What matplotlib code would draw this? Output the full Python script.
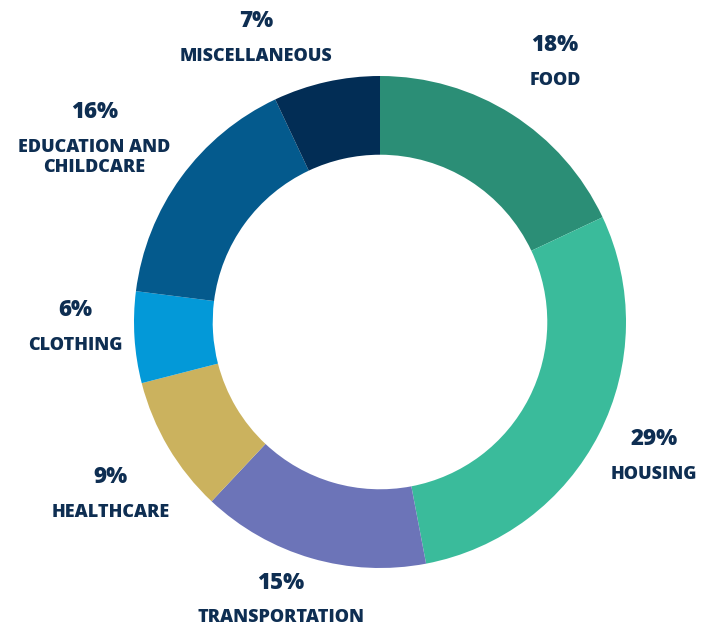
import numpy as np
import matplotlib
matplotlib.use("Agg")
import matplotlib.pyplot as plt

categories = ["FOOD", "HOUSING", "TRANSPORTATION", "HEALTHCARE", "CLOTHING",
              "EDUCATION AND\nCHILDCARE", "MISCELLANEOUS"]
shares = [18, 29, 15, 9, 6, 16, 7]
colors = ["#2B8E76", "#3ABB9B", "#6C74B8", "#CBB25E", "#0399D8", "#045A8D", "#022D55"]
# small tweaks to label placement (angle offset in degrees, radius)
label_nudge = [(-1.5, 1.275), (1, 1.24), (-3.5, 1.198), (2, 1.30), (-2.6, 1.24), (2, 1.40), (11, 1.26)]

text_color = "#0E2E52"
plt.rcParams["font.family"] = ["Open Sans", "DejaVu Sans"]

fig = plt.figure(figsize=(7.14, 6.27), dpi=100)
ax = fig.add_axes([0, 0, 1, 1])

wedges, _ = ax.pie(shares, colors=colors, startangle=90, counterclock=False,
                   radius=1, wedgeprops=dict(width=0.32, linewidth=0))

# place the donut so that it matches the reference position
cx, cy, R = 380, 322, 246
W, H = 714, 627
ax.set_xlim(-cx / R, (W - cx) / R)
ax.set_ylim(-(H - cy) / R, cy / R)
ax.set_aspect("equal")
ax.axis("off")

for w, name, val, (da, r) in zip(wedges, categories, shares, label_nudge):
    mid = np.deg2rad((w.theta1 + w.theta2) / 2 + da)
    x, y = r * np.cos(mid), r * np.sin(mid)
    ax.text(x, y + 0.02, f"{val}%", ha="center", va="bottom", fontsize=16,
            fontweight="heavy", color=text_color)
    ax.text(x, y - 0.04, name, ha="center", va="top", fontsize=13,
            fontweight="heavy", color=text_color, linespacing=1.2)

fig.savefig("out.png", dpi=100)
